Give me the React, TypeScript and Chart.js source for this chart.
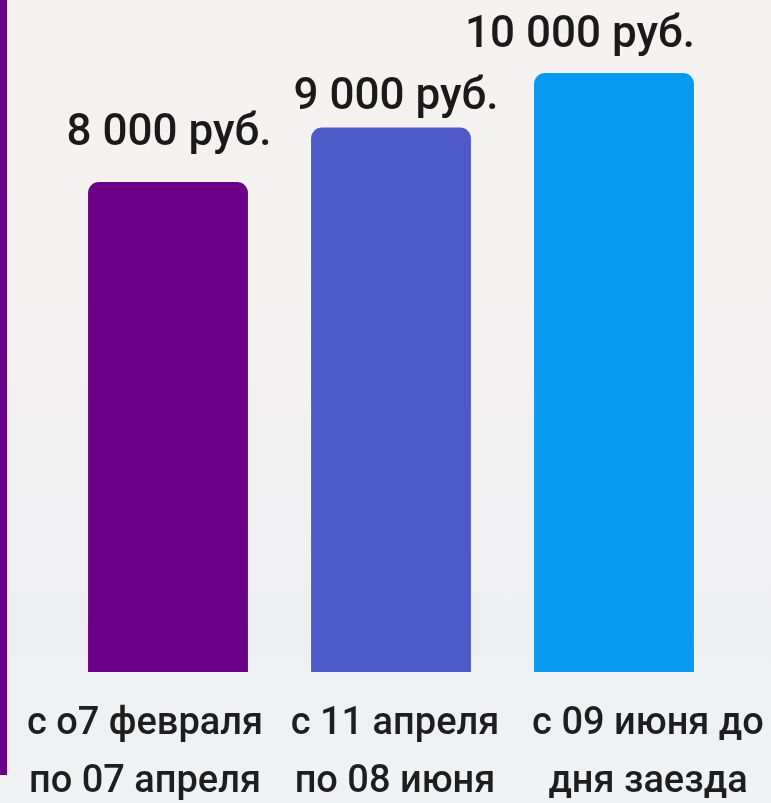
import React, { useEffect, useRef } from "react";
import { Chart, registerables } from "chart.js";

Chart.register(...registerables);

const categories: string[][] = [
  ["с о7 февраля", "по 07 апреля"],
  ["с 11 апреля", "по 08 июня"],
  ["с 09 июня до", "дня заезда"],
];
const prices: number[] = [8000, 9000, 10000];
const priceLabels: string[] = ["8 000 руб.", "9 000 руб.", "10 000 руб."];
const barColors: string[] = ["#6b0087", "#4f5ac9", "#0899f1"];

const FONT = "Roboto, 'Noto Sans', 'DejaVu Sans', sans-serif";

const labelsPlugin = {
  id: "customLabels",
  afterDatasetsDraw(chart: any) {
    const { ctx } = chart;
    const meta = chart.getDatasetMeta(0);
    const valueNudge = [
      { dx: 1, dy: -37 },
      { dx: 5, dy: -18 },
      { dx: -34, dy: -26 },
    ];
    const catNudge = [-23, 4, 34];
    ctx.save();
    ctx.fillStyle = "#1a1a1a";
    ctx.textAlign = "center";
    ctx.textBaseline = "alphabetic";
    ctx.font = `500 44px ${FONT}`;
    meta.data.forEach((bar: any, i: number) => {
      const n = valueNudge[i];
      ctx.fillText(priceLabels[i], bar.x + n.dx, bar.y + n.dy);
    });
    ctx.font = `500 38px ${FONT}`;
    ctx.fillStyle = "#1e1e1e";
    const bottom = chart.chartArea.bottom;
    meta.data.forEach((bar: any, i: number) => {
      const lines = categories[i];
      lines.forEach((line, j) => {
        ctx.fillText(line, bar.x + catNudge[i], bottom + 62 + j * 58);
      });
    });
    ctx.restore();
  },
};

export default function App() {
  const ref = useRef<HTMLCanvasElement | null>(null);
  useEffect(() => {
    if (!ref.current) return;
    const chart = new Chart(ref.current, {
      type: "bar",
      data: {
        labels: categories.map((c) => c.join(" ")),
        datasets: [
          {
            data: prices,
            backgroundColor: barColors,
            borderRadius: { topLeft: 11, topRight: 11, bottomLeft: 0, bottomRight: 0 },
            borderSkipped: false,
            base: -1000,
            barPercentage: 1,
            categoryPercentage: 0.717,
          } as any,
        ],
      },
      options: {
        animation: false,
        responsive: false,
        maintainAspectRatio: false,
        layout: { padding: { left: 56.5, right: 45.5, top: 73, bottom: 131 } },
        plugins: { legend: { display: false }, tooltip: { enabled: false } },
        scales: {
          x: { display: false },
          y: { display: false, min: -1000, max: 10000 },
        },
      },
      plugins: [labelsPlugin],
    });
    return () => chart.destroy();
  }, []);
  return (
    <div
      style={{
        position: "fixed",
        left: 0,
        top: 0,
        width: 771,
        height: 803,
        background: "linear-gradient(180deg, #f6f2f2 0%, #f3f1f1 45%, #eeeff2 80%, #f1f2f4 100%)",
        overflow: "hidden",
      }}
    >
      <div
        style={{
          position: "absolute",
          left: 0,
          top: 0,
          width: 7,
          height: 775,
          background: "#6a0085",
        }}
      />
      <canvas ref={ref} width={771} height={803} style={{ position: "absolute", left: 0, top: 0 }} />
    </div>
  );
}
